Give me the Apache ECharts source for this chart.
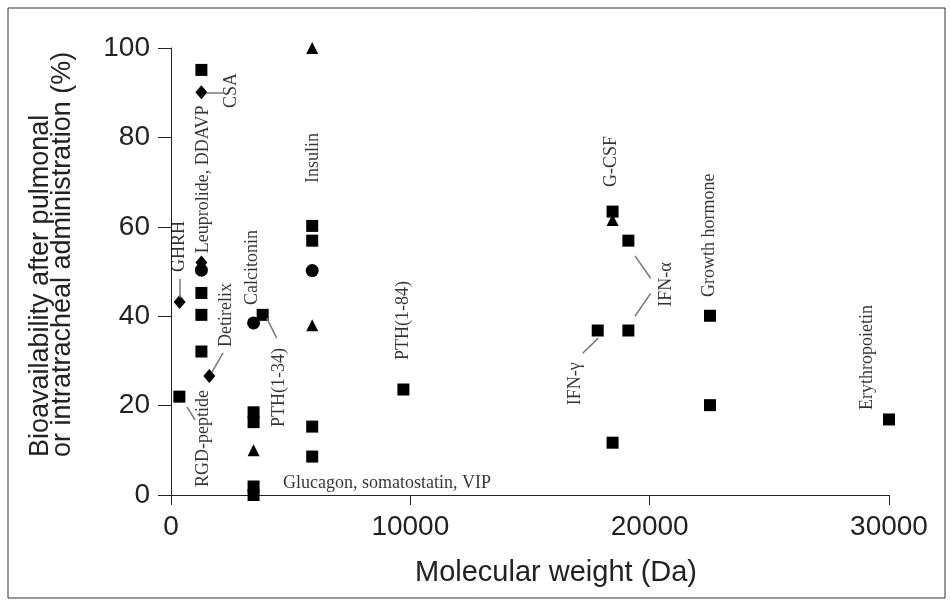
<!DOCTYPE html>
<html>
<head>
<meta charset="utf-8">
<script src="https://cdn.jsdelivr.net/npm/echarts@6/dist/echarts.min.js"></script>
<style>
  html, body { margin: 0; padding: 0; background: #fff; }
  #chart { width: 951px; height: 605px; }
</style>
</head>
<body>
<div id="chart"></div>
<script>
// marker data: [molecular weight (Da), bioavailability (%)]
var squares = [
  [1270, 95.1], [1270, 45.2], [1270, 40.3], [1270, 32.1],
  [350, 22.0],
  [3830, 40.3],
  [3450, 18.5], [3450, 16.3], [3450, 1.9], [3450, 0],
  [5900, 60.2], [5900, 56.9], [5900, 15.3], [5900, 8.6],
  [9710, 23.6],
  [17830, 36.8],
  [18450, 63.4], [18450, 11.7],
  [19110, 56.9], [19110, 36.8],
  [22520, 40.1], [22520, 20.1],
  [30000, 16.9]
]
var diamonds = [[1270, 90.1], [1270, 52.0], [360, 43.2], [1600, 26.6]]
var circles = [[1270, 50.3], [3450, 38.5], [5900, 50.2]]
var triangles = [[5900, 100], [5900, 38.0], [3450, 10.0], [18450, 61.5]]

// annotation texts and the point (data units) where each text starts
var annoText = ['CSA', 'Leuprolide, DDAVP', 'GHRH', 'Calcitonin', 'Detirelix', 'RGD-peptide',
  'PTH(1-34)', 'Insulin', 'PTH(1-84)', 'G-CSF', 'IFN-α', 'IFN-γ', 'Growth hormone',
  'Erythropoietin', 'Glucagon, somatostatin, VIP']
var annoX = [2536, 1350, 334, 3384, 2298, 1337, 4512, 5933, 9693, 18383, 20681, 16879, 22478, 29079, 4679]
var annoY = [86.6, 54.1, 49.9, 42.5, 33.1, 1.8, 15.2, 69.8, 30.2, 68.9, 42.1, 20.1, 44.3, 19.0, 2.7]

// leader lines between points and texts
var leaders = [
  [[1460, 90.1], [2256, 90.1]],
  [[2173, 31.8], [1713, 27.5]],
  [[669, 19.7], [1003, 16.8]],
  [[3999, 39.6], [4417, 35.1]],
  [[19386, 53.5], [20043, 48.5]],
  [[19386, 40.0], [20043, 45.1]],
  [[17853, 35.1], [17201, 31.7]],
  [[347, 48.3], [347, 44.1]]
]

var xTicks = [0, 10000, 20000, 30000]
var yTicks = [0, 20, 40, 60, 80, 100]

var chart = echarts.init(document.getElementById('chart'))

var labelData = annoText.map(function (t, i) {
  var horiz = i === annoText.length - 1
  return {
    value: [annoX[i], annoY[i]],
    label: {
      show: true,
      formatter: t,
      position: [0, 0],
      rotate: horiz ? 0 : 90,
      align: 'left',
      verticalAlign: 'middle'
    }
  }
})

function markerSeries(data, symbol, size) {
  return {
    type: 'scatter',
    data: data,
    symbol: symbol,
    symbolSize: size,
    clip: false,
    itemStyle: { color: '#000', opacity: 1 },
    emphasis: { disabled: true },
    silent: true
  }
}

var option = {
  animation: false,
  backgroundColor: '#fff',
  textStyle: { fontFamily: 'Liberation Sans' },
  grid: { left: 171, right: 62, top: 48, bottom: 110 },
  xAxis: {
    type: 'value',
    min: xTicks[0],
    max: xTicks[xTicks.length - 1],
    interval: 10000,
    name: 'Molecular weight (Da)',
    nameLocation: 'middle',
    nameGap: 63,
    nameTextStyle: { fontSize: 29, color: '#222', padding: [0, 0, 0, 52] },
    axisLine: { show: true, onZero: false, lineStyle: { color: '#222', width: 1 } },
    axisTick: { show: true, length: 10, lineStyle: { color: '#222' } },
    axisLabel: {
      fontSize: 28, color: '#222', margin: 18,
      formatter: function (v) { return String(v) }
    },
    splitLine: { show: false }
  },
  yAxis: {
    type: 'value',
    min: yTicks[0],
    max: yTicks[yTicks.length - 1],
    interval: 20,
    axisLine: { show: true, onZero: false, lineStyle: { color: '#222', width: 1 } },
    axisTick: { show: true, length: 13, lineStyle: { color: '#222' } },
    axisLabel: { fontSize: 28, color: '#222', margin: 21 },
    splitLine: { show: false }
  },
  graphic: [
    {
      type: 'rect',
      shape: { x: 8, y: 8, width: 937, height: 590 },
      style: { fill: 'none', stroke: '#333', lineWidth: 1 },
      silent: true,
      z: -1
    },
    {
      type: 'text',
      x: 52,
      y: 457,
      rotation: Math.PI / 2,
      silent: true,
      style: {
        text: 'Bioavailability after pulmonal\nor intratracheal administration (%)',
        fontFamily: 'Liberation Sans',
        fontSize: 27,
        lineHeight: 22,
        fill: '#222',
        align: 'left',
        verticalAlign: 'middle'
      }
    }
  ],
  series: [
    markerSeries(squares, 'rect', 12),
    markerSeries(diamonds, 'diamond', [12, 14]),
    markerSeries(circles, 'circle', 13),
    markerSeries(triangles, 'triangle', 12),
    {
      type: 'scatter',
      data: labelData,
      symbolSize: 0,
      clip: false,
      silent: true,
      label: {
        fontFamily: 'Liberation Serif',
        fontSize: 18,
        color: '#000'
      },
      emphasis: { disabled: true },
      markLine: {
        silent: true,
        symbol: ['none', 'none'],
        label: { show: false },
        lineStyle: { color: '#777', width: 1.5, type: 'solid' },
        emphasis: { disabled: true },
        data: leaders.map(function (l) {
          return [{ coord: l[0] }, { coord: l[1] }]
        })
      }
    }
  ]
}

chart.setOption(option)
</script>
</body>
</html>
